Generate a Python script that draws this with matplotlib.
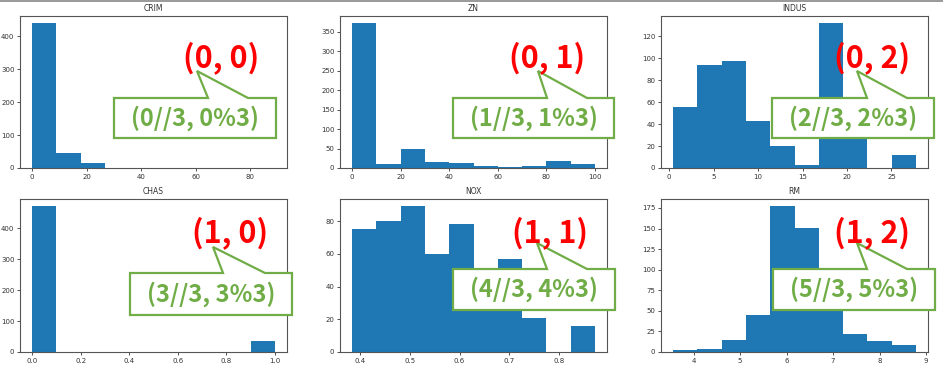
import numpy as np
import matplotlib.pyplot as plt
from matplotlib.patches import Polygon
from matplotlib.lines import Line2D

W, H = 943, 367

# data (10-bin histograms of the boston columns)
names = ['CRIM', 'ZN', 'INDUS', 'CHAS', 'NOX', 'RM']
col_min = [0.00632, 0.0, 0.46, 0.0, 0.385, 3.561]
col_max = [88.9762, 100.0, 27.74, 1.0, 0.871, 8.780]
crim_counts = [439, 44, 14, 0, 1, 1, 0, 0, 0, 1]
zn_counts = [372, 11, 48, 15, 13, 5, 3, 4, 18, 10]
indus_counts = [56, 94, 98, 43, 20, 3, 132, 44, 0, 12]
chas_counts = [471, 0, 0, 0, 0, 0, 0, 0, 0, 35]
nox_counts = [75, 80, 89, 60, 78, 30, 57, 21, 0, 16]
rm_counts = [2, 4, 14, 45, 177, 151, 67, 22, 13, 9]
counts = [crim_counts, zn_counts, indus_counts, chas_counts, nox_counts, rm_counts]

red_labels = ['(0, 0)', '(0, 1)', '(0, 2)', '(1, 0)', '(1, 1)', '(1, 2)']
green_labels = ['(%d//3, %d%%3)' % (i, i) for i in range(6)]

# callout geometry in pixels: red text centre, box (x0,y0,x1,y1), tip, pointer base
red_pos = [(221, 58), (547, 58), (872, 58), (230, 233), (550, 233), (872, 233)]
boxes = [(114, 98, 276, 138), (453, 98, 614, 138), (772, 98, 934, 138),
         (130, 273, 292, 315), (453, 269, 615, 310), (773, 269, 935, 310)]
tips = [(197, 71), (538, 71), (857, 71), (213, 247), (537, 243), (857, 243)]
bases = [(208, 248), (547, 587), (867, 907), (223, 265), (547, 587), (867, 907)]

plt.rcParams['font.family'] = ['DejaVu Sans']
fig = plt.figure(figsize=(W / 100, H / 100), dpi=100)

lefts = [20, 340, 661]
tops = [16, 199]
heights = [152, 153]
axw = 267


def fx(x):
    return x / W


def fy(y):
    return 1 - y / H


for i, name in enumerate(names):
    r, c = i // 3, i % 3
    ax = fig.add_axes([fx(lefts[c]), fy(tops[r] + heights[r]), axw / W, heights[r] / H])
    edges = np.linspace(col_min[i], col_max[i], 11)
    ax.hist(edges[:-1], bins=edges, weights=counts[i], color='#1f77b4')
    ax.set_title(name, fontsize=5.5, pad=3.5, color='#333333')
    ax.tick_params(labelsize=5, length=2.5, width=0.6, pad=1.5, colors='#333333')
    for s in ax.spines.values():
        s.set_color('#555555')
        s.set_linewidth(0.8)

# speech-bubble callouts
for i in range(6):
    x0, y0, x1, y1 = boxes[i]
    b0, b1 = bases[i]
    tx, ty = tips[i]
    pts = [(x0, y0), (b0, y0), (tx, ty), (b1, y0), (x1, y0), (x1, y1), (x0, y1)]
    poly = Polygon([(fx(a), fy(b)) for a, b in pts], closed=True, transform=fig.transFigure,
                   facecolor='white', edgecolor='#70AD47', linewidth=1.6, zorder=5)
    fig.add_artist(poly)
    fig.text(fx((x0 + x1) / 2), fy((y0 + y1) / 2), green_labels[i], ha='center', va='center',
             fontsize=17, fontweight='bold', color='#70AD47', family=['Noto Sans CJK JP'],
             zorder=6)
    fig.text(fx(red_pos[i][0]), fy(red_pos[i][1]), red_labels[i], ha='center', va='center',
             fontsize=22, fontweight='bold', color='#FF0000', family=['Noto Sans CJK JP'],
             zorder=6)

fig.add_artist(Line2D([0, 1], [fy(0.5), fy(0.5)], transform=fig.transFigure,
                      color='#888888', linewidth=1.2))

plt.savefig('out.png', dpi=100)
